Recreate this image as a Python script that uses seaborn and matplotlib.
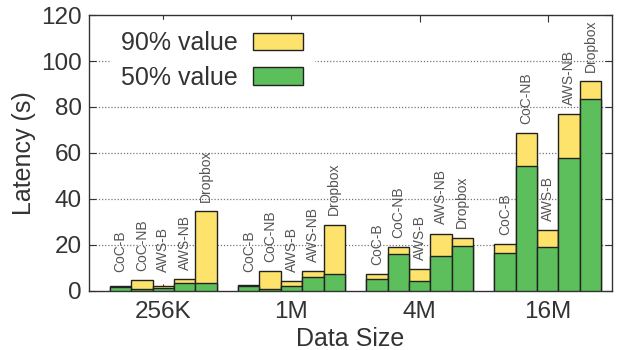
import pandas as pd
import numpy as np
import matplotlib
matplotlib.use("Agg")
import matplotlib.pyplot as plt
import seaborn as sns
from matplotlib.patches import Patch

# data
sizes = ["256K", "1M", "4M", "16M"]
systems = ["CoC-B", "CoC-NB", "AWS-B", "AWS-NB", "Dropbox"]

# 90% latency (s), one list per system, in order of sizes
coc_b_p90 = [2.2, 2.6, 7.4, 20.3]
coc_nb_p90 = [4.8, 8.5, 19.0, 68.7]
aws_b_p90 = [2.2, 4.1, 9.4, 26.4]
aws_nb_p90 = [5.2, 8.5, 24.9, 77.0]
dropbox_p90 = [34.6, 28.8, 23.2, 91.2]

# 50% latency (s)
coc_b_p50 = [1.8, 2.0, 5.2, 16.4]
coc_nb_p50 = [0.7, 0.7, 15.9, 54.5]
aws_b_p50 = [1.3, 1.9, 4.3, 19.0]
aws_nb_p50 = [3.3, 6.1, 15.1, 57.7]
dropbox_p50 = [3.6, 7.2, 19.7, 83.6]

p90 = [coc_b_p90, coc_nb_p90, aws_b_p90, aws_nb_p90, dropbox_p90]
p50 = [coc_b_p50, coc_nb_p50, aws_b_p50, aws_nb_p50, dropbox_p50]

rows = []
for s, a, b in zip(systems, p90, p50):
    for size, v90, v50 in zip(sizes, a, b):
        rows.append({"size": size, "system": s, "p90": v90, "p50": v50})
df = pd.DataFrame(rows)

yellow = "#fde36b"
green = "#5cbf5c"
txt = "#333333"

sns.set_style("ticks")
plt.rcParams["font.family"] = ["Liberation Sans", "DejaVu Sans"]

fig = plt.figure(figsize=(6.36, 3.5), dpi=100)
ax = fig.add_axes([0.140, 0.169, 0.822, 0.788])

# dotted grid first so the bars sit on top
for y in [20, 40, 60, 80, 100]:
    ax.axhline(y, color="#777777", ls=(0, (1, 1.5)), lw=0.9, zorder=0)

sns.barplot(data=df, x="size", y="p90", hue="system", order=sizes,
            hue_order=systems, palette={s: yellow for s in systems},
            saturation=1, width=5 / 6, gap=0, edgecolor="#222222",
            linewidth=1.0, legend=False, ax=ax, zorder=2)
sns.barplot(data=df, x="size", y="p50", hue="system", order=sizes,
            hue_order=systems, palette={s: green for s in systems},
            saturation=1, width=5 / 6, gap=0, edgecolor="#222222",
            linewidth=1.0, legend=False, ax=ax, zorder=3)

# system name above every 90% bar (first len(df) patches)
for i, s in enumerate(systems):
    for j, size in enumerate(sizes):
        bar = ax.patches[i * len(sizes) + j]
        x = bar.get_x() + bar.get_width() / 2
        ax.text(x, max(bar.get_height(), 4.0) + 4, s, rotation=90,
                ha="center", va="bottom", fontsize=10, color="#555555",
                zorder=4)

ax.set_ylim(0, 120)
ax.set_xlim(-0.58, 3.5)
ax.set_yticks(range(0, 121, 20))
ax.set_xlabel("Data Size", fontsize=18, color=txt, labelpad=3)
ax.set_ylabel("Latency (s)", fontsize=18, color=txt, labelpad=4)
ax.tick_params(axis="both", direction="in", top=True, right=True,
               labelsize=17.5, colors=txt, length=5, width=0.8,
               labelcolor=txt)
ax.tick_params(axis="x", pad=7)
ax.tick_params(axis="y", pad=5)
for sp in ax.spines.values():
    sp.set_visible(True)
    sp.set_color(txt)
    sp.set_linewidth(1.0)

handles = [Patch(facecolor=yellow, edgecolor="#222222", label="90% value"),
           Patch(facecolor=green, edgecolor="#222222", label="50% value")]
leg = ax.legend(handles=handles, loc="upper left", markerfirst=False,
                frameon=True, fontsize=18, handlelength=2.0,
                handleheight=0.7, handletextpad=0.6, labelspacing=0.42,
                borderpad=0.45, borderaxespad=0.2,
                bbox_to_anchor=(0.03, 1.0), fancybox=False)
leg.get_frame().set_edgecolor("white")
leg.get_frame().set_facecolor("white")
leg.get_frame().set_alpha(1.0)
for t in leg.get_texts():
    t.set_color(txt)
leg.set_zorder(5)

fig.savefig("out.png", dpi=100)
